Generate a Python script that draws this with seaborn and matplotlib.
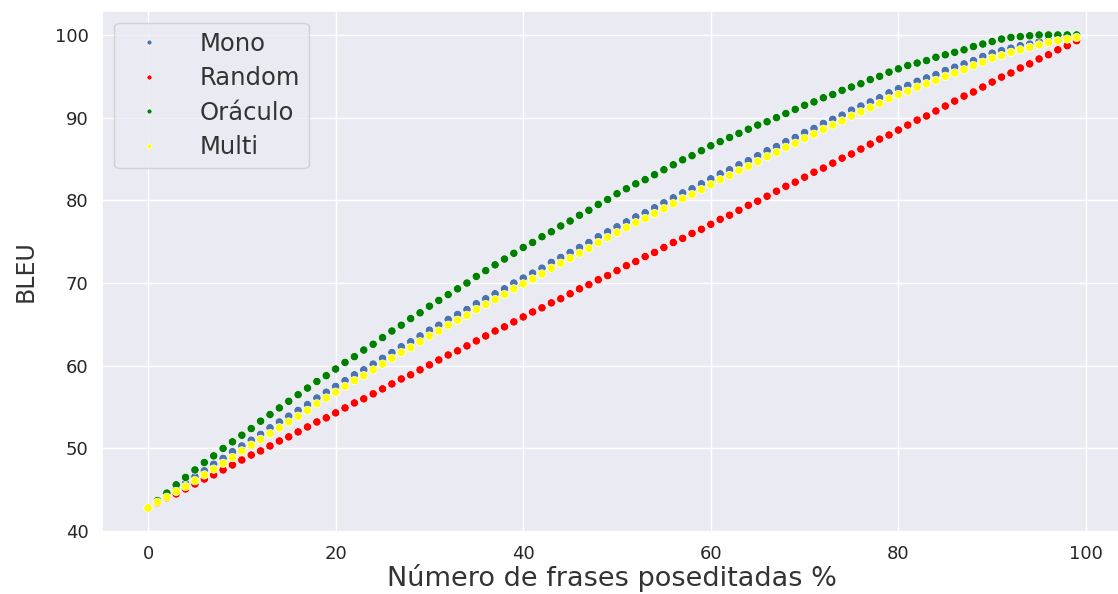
import matplotlib
matplotlib.use("Agg")
import matplotlib.pyplot as plt
import seaborn as sns
import pandas as pd

x_pct = list(range(100))

mono = [42.8, 43.6, 44.3, 45.1, 45.8, 46.6, 47.3, 48.1, 48.8, 49.6,
        50.3, 51.0, 51.7, 52.5, 53.2, 53.9, 54.6, 55.3, 56.1, 56.8,
        57.5, 58.2, 58.9, 59.5, 60.2, 60.9, 61.6, 62.3, 62.9, 63.6,
        64.3, 64.9, 65.6, 66.2, 66.8, 67.5, 68.1, 68.7, 69.3, 70.0,
        70.6, 71.2, 71.8, 72.5, 73.1, 73.7, 74.3, 74.9, 75.6, 76.2,
        76.8, 77.4, 78.0, 78.5, 79.1, 79.7, 80.3, 80.9, 81.4, 82.0,
        82.6, 83.2, 83.7, 84.3, 84.8, 85.4, 86.0, 86.5, 87.1, 87.6,
        88.2, 88.7, 89.3, 89.8, 90.3, 90.9, 91.4, 91.9, 92.4, 93.0,
        93.5, 93.9, 94.4, 94.8, 95.2, 95.7, 96.1, 96.5, 96.9, 97.4,
        97.8, 98.1, 98.4, 98.7, 98.9, 99.2, 99.4, 99.6, 99.8, 99.9]

random_ = [42.8, 43.4, 44.0, 44.5, 45.1, 45.7, 46.3, 46.8, 47.4, 48.0,
           48.6, 49.2, 49.7, 50.3, 50.9, 51.4, 52.0, 52.6, 53.2, 53.7,
           54.3, 54.9, 55.5, 56.0, 56.6, 57.2, 57.8, 58.4, 58.9, 59.5,
           60.1, 60.7, 61.3, 61.8, 62.4, 63.0, 63.6, 64.2, 64.7, 65.3,
           65.9, 66.5, 67.0, 67.6, 68.1, 68.7, 69.3, 69.8, 70.4, 70.9,
           71.5, 72.1, 72.6, 73.2, 73.7, 74.3, 74.9, 75.4, 76.0, 76.5,
           77.1, 77.7, 78.2, 78.8, 79.4, 79.9, 80.5, 81.1, 81.7, 82.2,
           82.8, 83.4, 83.9, 84.5, 85.1, 85.6, 86.2, 86.8, 87.4, 87.9,
           88.5, 89.1, 89.7, 90.2, 90.8, 91.4, 92.0, 92.6, 93.1, 93.7,
           94.3, 94.9, 95.4, 96.0, 96.5, 97.1, 97.6, 98.2, 98.7, 99.3]

oraculo = [42.8, 43.7, 44.6, 45.6, 46.5, 47.4, 48.3, 49.1, 50.0, 50.8,
           51.6, 52.4, 53.3, 54.1, 54.9, 55.7, 56.5, 57.3, 58.1, 58.8,
           59.6, 60.4, 61.1, 61.9, 62.6, 63.4, 64.2, 64.9, 65.7, 66.4,
           67.2, 67.9, 68.6, 69.3, 70.0, 70.8, 71.5, 72.2, 72.9, 73.6,
           74.3, 74.9, 75.6, 76.2, 76.9, 77.5, 78.2, 78.8, 79.5, 80.1,
           80.8, 81.4, 82.0, 82.5, 83.1, 83.7, 84.3, 84.9, 85.4, 86.0,
           86.6, 87.1, 87.6, 88.1, 88.6, 89.1, 89.5, 90.0, 90.5, 91.0,
           91.5, 91.9, 92.4, 92.8, 93.3, 93.7, 94.1, 94.6, 95.0, 95.5,
           95.9, 96.3, 96.6, 96.9, 97.3, 97.6, 97.9, 98.2, 98.6, 98.9,
           99.2, 99.5, 99.7, 99.8, 99.9, 100.0, 100.0, 100.0, 100.0, 100.0]

multi = [42.8, 43.5, 44.1, 44.8, 45.4, 46.1, 46.8, 47.5, 48.2, 48.9,
         49.7, 50.4, 51.1, 51.8, 52.5, 53.2, 53.9, 54.6, 55.4, 56.1,
         56.8, 57.5, 58.2, 58.8, 59.5, 60.2, 60.9, 61.6, 62.2, 62.9,
         63.6, 64.2, 64.9, 65.5, 66.1, 66.8, 67.4, 68.0, 68.6, 69.3,
         69.9, 70.5, 71.1, 71.8, 72.4, 73.0, 73.6, 74.2, 74.9, 75.5,
         76.1, 76.7, 77.3, 77.8, 78.4, 79.0, 79.6, 80.2, 80.7, 81.3,
         81.9, 82.5, 83.0, 83.6, 84.1, 84.7, 85.3, 85.8, 86.4, 86.9,
         87.5, 88.0, 88.6, 89.1, 89.6, 90.2, 90.7, 91.2, 91.7, 92.3,
         92.8, 93.2, 93.7, 94.1, 94.5, 95.0, 95.4, 95.8, 96.3, 96.7,
         97.2, 97.5, 97.9, 98.2, 98.5, 98.8, 99.1, 99.3, 99.5, 99.7]

series_names = ["Mono", "Random", "Oráculo", "Multi"]
series_values = [mono, random_, oraculo, multi]
colors = {"Mono": "#4c72b0", "Random": "red", "Oráculo": "green", "Multi": "yellow"}

frames = []
for name, vals in zip(series_names, series_values):
    frames.append(pd.DataFrame({"x": x_pct, "bleu": vals, "serie": name}))
df = pd.concat(frames, ignore_index=True)

sns.set_theme(style="darkgrid")
plt.rcParams["font.family"] = ["DejaVu Sans"]

fig = plt.figure(figsize=(11.18, 5.94), dpi=100)
ax = fig.add_axes([0.0909, 0.105, 0.9136, 0.876])

sns.scatterplot(data=df, x="x", y="bleu", hue="serie", hue_order=series_names,
                palette=colors, s=36, ax=ax)

ax.set_xlabel("Número de frases poseditadas %", fontsize=19.5, labelpad=1,
              color="#333333")
ax.set_ylabel("BLEU", fontsize=17, labelpad=12, color="#333333")
ax.tick_params(axis="both", labelsize=13)
ax.set_xticks([0, 20, 40, 60, 80, 100])
ax.set_yticks([40, 50, 60, 70, 80, 90, 100])

leg = ax.legend(loc="upper left", fontsize=17.5, markerscale=0.6,
                handlelength=2.2, handletextpad=1.0, labelspacing=0.43,
                borderpad=0.35)
for t in leg.get_texts():
    t.set_color("#333333")

fig.savefig("out.png", dpi=100)
